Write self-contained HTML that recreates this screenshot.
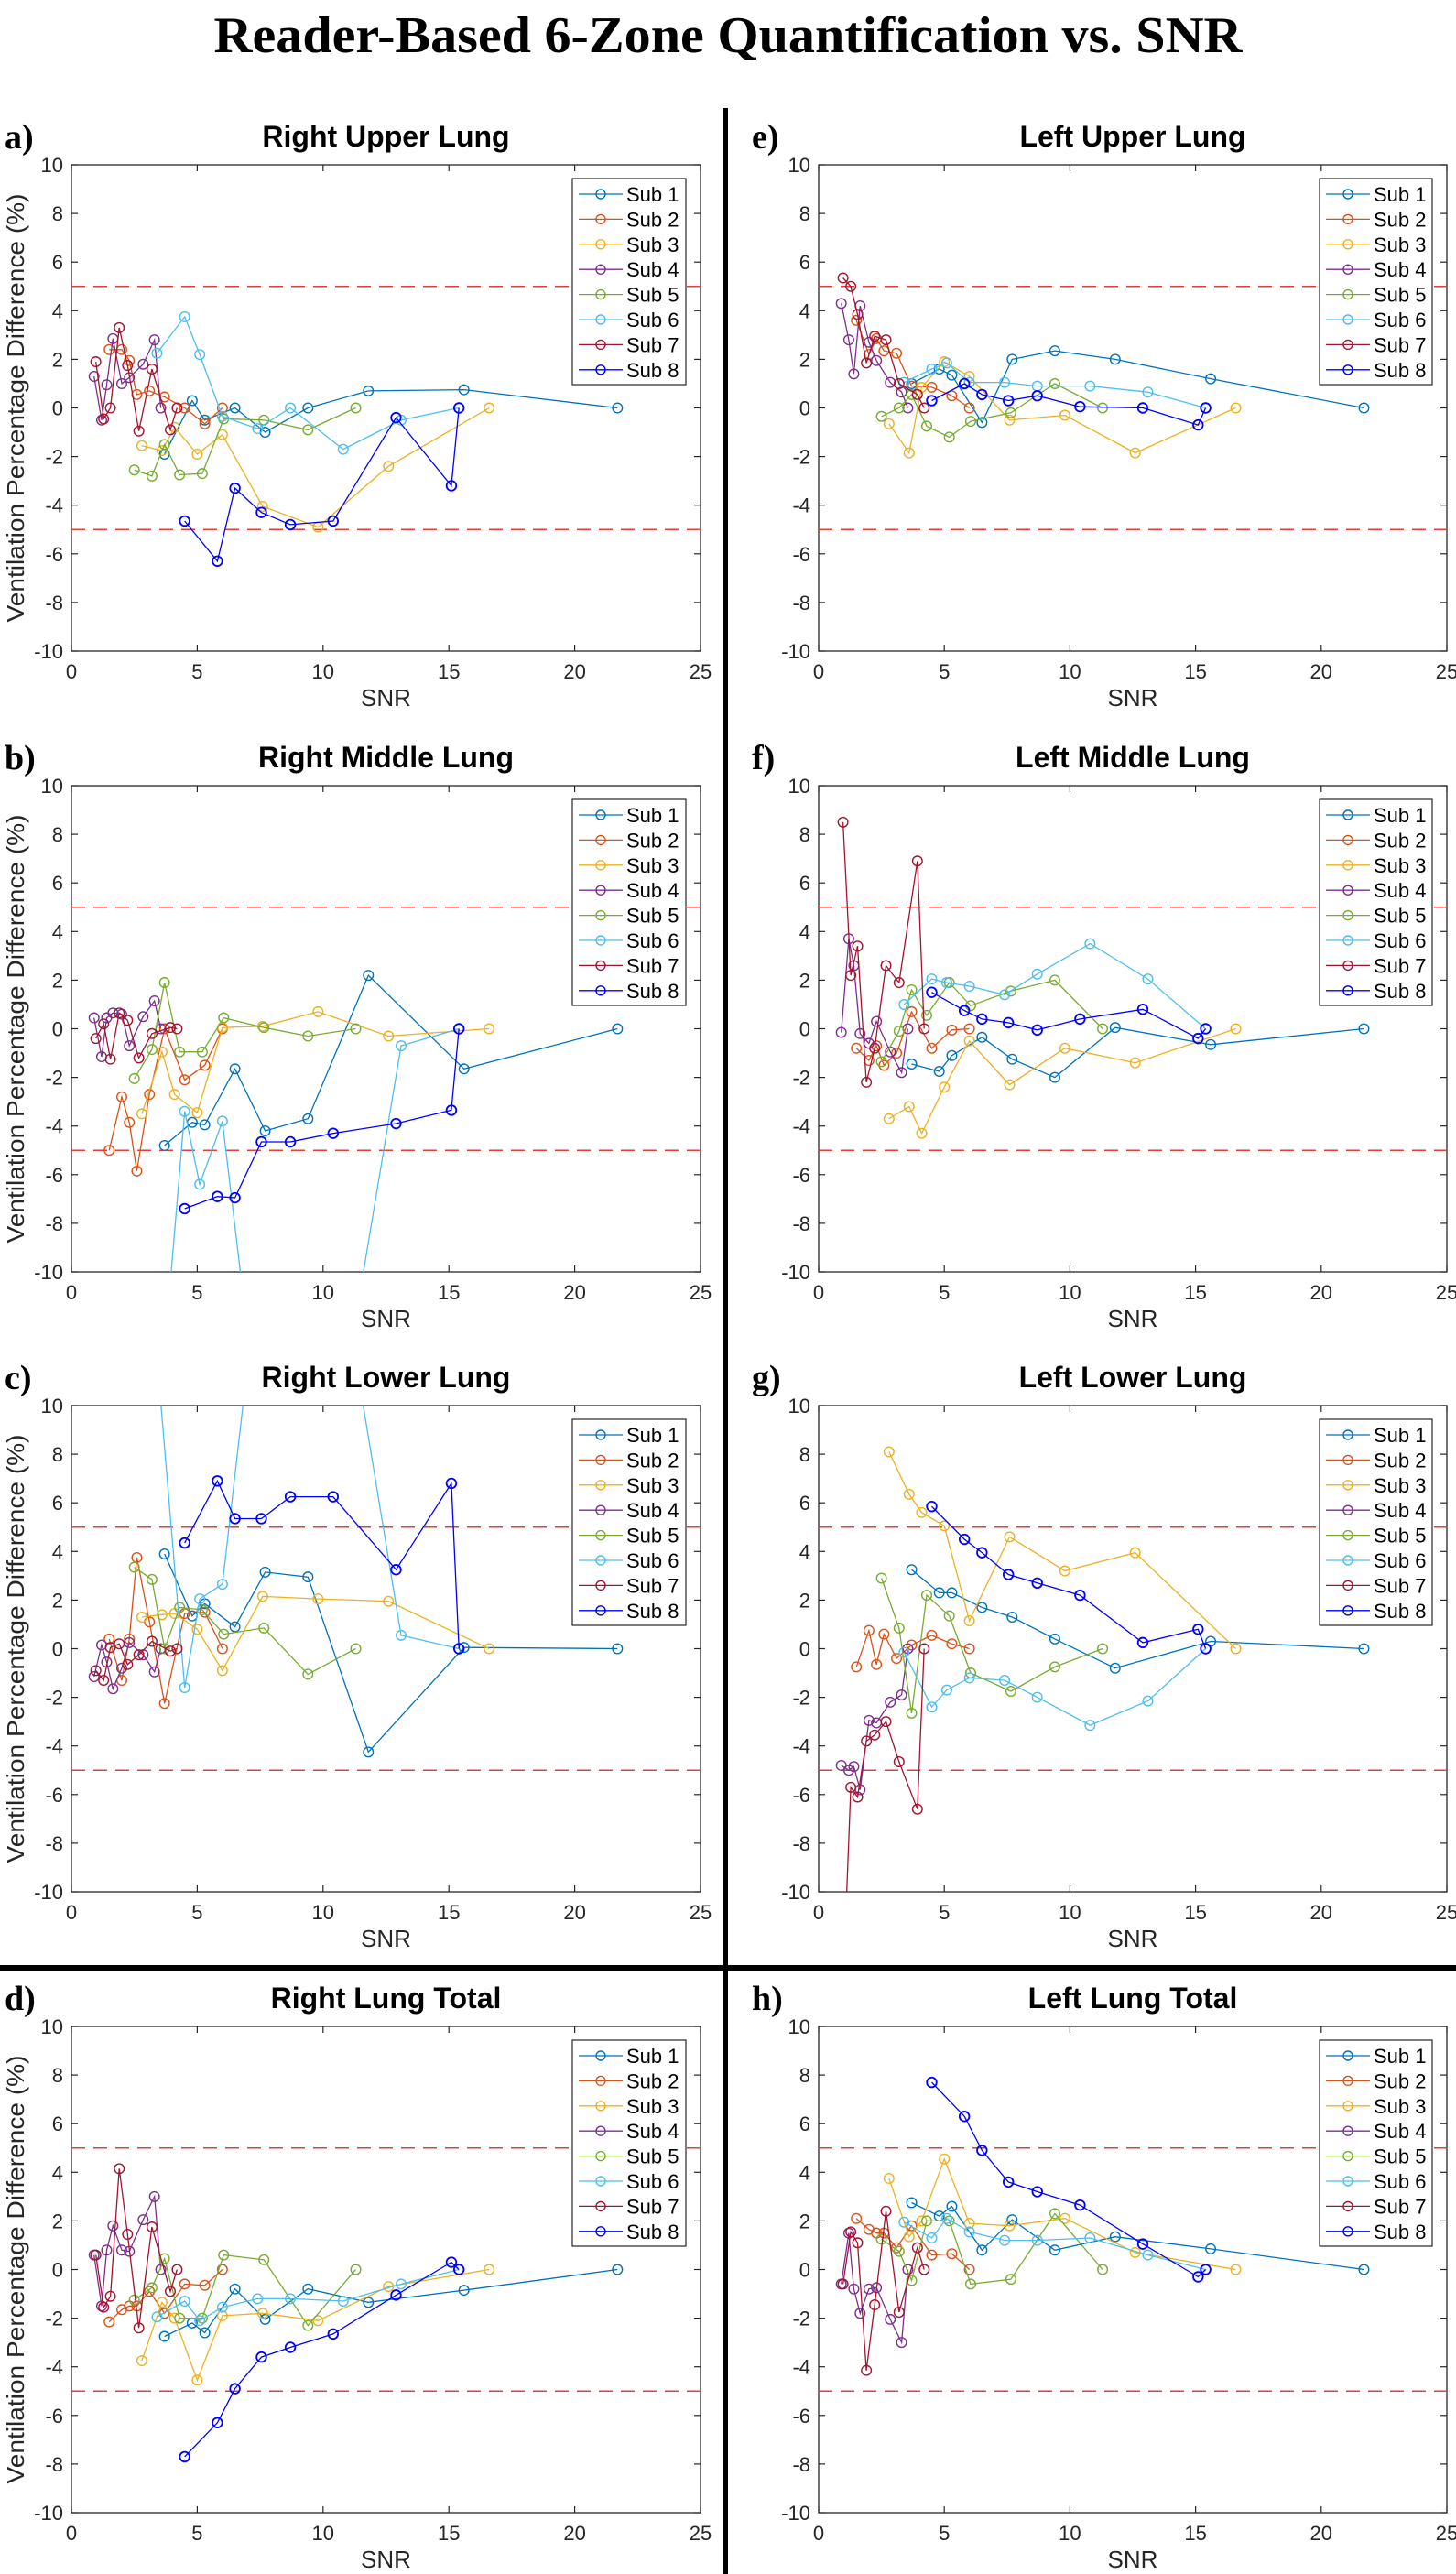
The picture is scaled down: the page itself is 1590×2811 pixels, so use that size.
<!DOCTYPE html>
<html>
<head>
<meta charset="utf-8">
<style>
html,body{margin:0;padding:0;background:#fff;}
svg{display:block;}
</style>
</head>
<body>
<svg id="fig" xmlns="http://www.w3.org/2000/svg" width="1590" height="2811" viewBox="0 0 1590 2811">
<rect width="1590" height="2811" fill="#fff"/>
<text x="795" y="57" text-anchor="middle" font-family="Liberation Serif, serif" font-weight="bold" font-size="56" textLength="1123" lengthAdjust="spacingAndGlyphs" fill="#000">Reader-Based 6-Zone Quantification vs. SNR</text>
<rect x="789" y="118" width="6" height="2693" fill="#000"/>
<rect x="0" y="2146" width="1590" height="6" fill="#000"/>
<g id="panels"></g>
</svg>
<script>
// Shared SNR values per subject
const snrSub1 = [3.7, 4.8, 5.3, 6.5, 7.7, 9.4, 11.8, 15.6, 21.7];
const snrSub2 = [1.5, 2.0, 2.3, 2.6, 3.1, 3.7, 4.5, 5.3, 6.0];
const snrSub3 = [2.8, 3.6, 4.1, 5.0, 6.0, 7.6, 9.8, 12.6, 16.6];
const snrSub4 = [0.9, 1.2, 1.4, 1.65, 2.0, 2.3, 2.85, 3.3, 3.55];
const snrSub5 = [2.5, 3.2, 3.7, 4.3, 5.2, 6.05, 7.65, 9.4, 11.3];
const snrSub6 = [3.4, 4.5, 5.1, 6.0, 7.4, 8.7, 10.8, 13.1, 15.4];
const snrSub7 = [0.97, 1.28, 1.55, 1.9, 2.23, 2.68, 3.2, 3.93, 4.2];
const snrSub8 = [4.5, 5.8, 6.5, 7.55, 8.7, 10.4, 12.9, 15.1, 15.4];

const seriesNames = ["Sub 1","Sub 2","Sub 3","Sub 4","Sub 5","Sub 6","Sub 7","Sub 8"];
const xTicks = [0, 5, 10, 15, 20, 25];
const yTicks = [-10, -8, -6, -4, -2, 0, 2, 4, 6, 8, 10];
const limitLines = [5, -5];

// Ventilation percentage difference per panel (one array per subject)
const rightUpper = [
  [-1.9, 0.3, -0.5, 0, -1.0, 0, 0.7, 0.75, 0],
  [2.4, 2.4, 1.95, 0.55, 0.7, 0.45, 0, -0.65, 0],
  [-1.55, -1.75, -0.8, -1.9, -1.1, -4.05, -4.9, -2.4, 0],
  [1.3, -0.5, 0.95, 2.85, 1.0, 1.25, 1.8, 2.8, 0],
  [-2.55, -2.8, -1.5, -2.75, -2.7, -0.45, -0.5, -0.9, 0],
  [2.25, 3.75, 2.2, -0.35, -0.85, 0, -1.7, -0.5, 0],
  [1.9, -0.45, 0, 3.3, 1.75, -0.95, 1.6, -0.9, 0],
  [-4.65, -6.3, -3.3, -4.3, -4.8, -4.65, -0.4, -3.2, 0]
];
const rightMiddle = [
  [-4.8, -3.85, -3.95, -1.65, -4.2, -3.7, 2.2, -1.65, 0],
  [-5.0, -2.8, -3.85, -5.85, -2.7, 0, -2.1, -1.5, 0],
  [-3.5, -0.95, -2.7, -3.45, 0.05, 0.1, 0.7, -0.3, 0],
  [0.45, -1.15, 0.45, 0.65, 0.6, -0.7, 0.5, 1.15, 0],
  [-2.05, -0.85, 1.9, -0.95, -0.95, 0.45, 0.05, -0.3, 0],
  [-17, -3.4, -6.4, -3.8, -16, -20, -15, -0.7, 0],
  [-0.4, 0.2, -1.25, 0.65, 0.35, -1.2, -0.2, 0.05, 0],
  [-7.4, -6.9, -6.95, -4.65, -4.65, -4.3, -3.9, -3.35, 0]
];
const rightLower = [
  [3.9, 1.35, 1.85, 0.9, 3.15, 2.95, -4.25, 0.05, 0],
  [0.4, -1.3, 0.4, 3.75, 1.1, -2.25, 1.45, 1.5, 0],
  [1.3, 1.4, 1.45, 0.8, -0.9, 2.15, 2.05, 1.95, 0],
  [-1.15, 0.15, -0.55, -1.65, -0.8, 0.25, -0.25, -0.95, 0],
  [3.35, 2.85, 0, 1.7, 1.6, 0.6, 0.85, -1.05, 0],
  [12, -1.6, 2.05, 2.65, 15.3, 20, 15, 0.55, 0],
  [-0.9, -1.3, 0.05, 0.2, -0.65, -0.25, 0.3, -0.1, 0],
  [4.35, 6.9, 5.35, 5.35, 6.25, 6.25, 3.25, 6.8, 0]
];
const rightTotal = [
  [-2.75, -2.2, -2.6, -0.8, -2.05, -0.8, -1.35, -0.85, 0],
  [-2.15, -1.65, -1.5, -1.5, -0.9, -1.8, -0.6, -0.65, 0],
  [-3.75, -1.35, -2.0, -4.55, -1.9, -1.8, -2.1, -0.7, 0],
  [0.6, -1.5, 0.8, 1.8, 0.8, 0.75, 2.05, 3.0, 0],
  [-1.25, -0.75, 0.45, -2.0, -2.0, 0.6, 0.4, -2.3, 0],
  [-1.95, -1.3, -2.1, -1.55, -1.2, -1.2, -1.3, -0.6, 0],
  [0.6, -1.55, -1.1, 4.15, 1.45, -2.4, 1.75, -0.9, 0],
  [-7.7, -6.3, -4.9, -3.6, -3.2, -2.65, -1.05, 0.3, 0]
];
const leftUpper = [
  [1.0, 1.6, 1.35, -0.6, 2.0, 2.35, 2.0, 1.2, 0],
  [3.6, 2.2, 2.85, 2.35, 2.25, 0.9, 0.85, 0.5, 0],
  [-0.65, -1.85, 0.85, 1.9, 1.3, -0.5, -0.3, -1.85, 0],
  [4.3, 2.8, 1.4, 4.2, 2.7, 1.95, 1.05, 0.65, 0],
  [-0.35, 0, 0.55, -0.75, -1.2, -0.55, -0.2, 1.0, 0],
  [1.05, 1.6, 1.85, 1.05, 1.05, 0.9, 0.9, 0.65, 0],
  [5.35, 5.0, 3.85, 1.85, 2.95, 2.8, 1.0, 0.55, 0],
  [0.3, 1.0, 0.55, 0.3, 0.5, 0.05, 0, -0.7, 0]
];
const leftMiddle = [
  [-1.45, -1.75, -1.1, -0.35, -1.25, -2.0, 0.05, -0.65, 0],
  [-0.8, -1.3, -0.7, -1.5, -1.0, 0.7, -0.8, -0.05, 0],
  [-3.7, -3.2, -4.3, -2.4, -0.5, -2.3, -0.8, -1.4, 0],
  [-0.15, 3.7, 2.6, -0.2, -0.6, 0.3, -0.95, -1.8, 0],
  [-1.35, -0.1, 1.6, 0.55, 1.9, 0.95, 1.55, 2.0, 0],
  [1.0, 2.05, 1.9, 1.75, 1.4, 2.25, 3.5, 2.05, 0],
  [8.5, 2.2, 3.4, -2.2, -0.8, 2.6, 1.9, 6.9, 0],
  [1.5, 0.75, 0.4, 0.25, -0.05, 0.4, 0.8, -0.4, 0]
];
const leftLower = [
  [3.25, 2.3, 2.3, 1.7, 1.3, 0.4, -0.8, 0.3, 0],
  [-0.75, 0.75, -0.65, 0.6, -0.4, 0.15, 0.55, 0.2, 0],
  [8.1, 6.35, 5.6, 5.05, 1.15, 4.6, 3.2, 3.95, 0],
  [-4.8, -5.0, -4.85, -5.8, -2.95, -3.05, -2.2, -1.9, 0],
  [2.9, 0.85, -2.65, 2.2, 1.35, -1.0, -1.75, -0.75, 0],
  [-0.15, -2.4, -1.7, -1.2, -1.3, -2.0, -3.15, -2.15, 0],
  [-14, -5.7, -6.1, -3.8, -3.55, -3.0, -4.65, -6.6, 0],
  [5.85, 4.5, 3.95, 3.05, 2.7, 2.2, 0.25, 0.8, 0]
];
const leftTotal = [
  [2.75, 2.2, 2.6, 0.8, 2.05, 0.8, 1.35, 0.85, 0],
  [2.1, 1.65, 1.5, 1.5, 0.9, 1.8, 0.6, 0.65, 0],
  [3.75, 1.35, 2.0, 4.55, 1.9, 1.8, 2.1, 0.7, 0],
  [-0.6, 1.5, -0.8, -1.8, -0.8, -0.75, -2.05, -3.0, 0],
  [1.25, 0.75, -0.45, 2.0, 2.0, -0.6, -0.4, 2.3, 0],
  [1.95, 1.3, 2.1, 1.55, 1.2, 1.2, 1.3, 0.6, 0],
  [-0.6, 1.55, 1.1, -4.15, -1.45, 2.4, -1.75, 0.9, 0],
  [7.7, 6.3, 4.9, 3.6, 3.2, 2.65, 1.05, -0.3, 0]
];

const subjectSnr = [snrSub1, snrSub2, snrSub3, snrSub4, snrSub5, snrSub6, snrSub7, snrSub8];
const colors = ["#0072BD","#D95319","#EDB120","#7E2F8E","#77AC30","#4DBEEE","#A2142F","#0000FF"];

const panels = [
  {id:"a", title:"Right Upper Lung", data:rightUpper, col:0, row:0},
  {id:"b", title:"Right Middle Lung", data:rightMiddle, col:0, row:1},
  {id:"c", title:"Right Lower Lung", data:rightLower, col:0, row:2},
  {id:"d", title:"Right Lung Total", data:rightTotal, col:0, row:3},
  {id:"e", title:"Left Upper Lung", data:leftUpper, col:1, row:0},
  {id:"f", title:"Left Middle Lung", data:leftMiddle, col:1, row:1},
  {id:"g", title:"Left Lower Lung", data:leftLower, col:1, row:2},
  {id:"h", title:"Left Lung Total", data:leftTotal, col:1, row:3}
];

const NS = "http://www.w3.org/2000/svg";
const root = document.getElementById("panels");
function mk(tag, attrs, parent){
  const el = document.createElementNS(NS, tag);
  for (const k in attrs) el.setAttribute(k, attrs[k]);
  parent.appendChild(el);
  return el;
}
const colX = [[78, 765], [894, 1580]];
const rowTop = [180, 858, 1535, 2213];
const H = 531;
const AX = "#262626";

panels.forEach(function(p){
  const x0 = colX[p.col][0], x1 = colX[p.col][1];
  const top = rowTop[p.row], bot = top + H;
  const xs = function(v){ return x0 + (v - 0) / 25 * (x1 - x0); };
  const ys = function(v){ return bot - (v + 10) / 20 * H; };

  const g = mk("g", {}, root);
  
  

  const lab = mk("text", {x: (p.col ? 821 : 5), y: top - 18, "font-family":"Liberation Serif, serif", "font-weight":"bold", "font-size":"38", fill:"#000"}, g);
  lab.textContent = p.id + ")";
  
  

  const tt = mk("text", {x: (x0 + x1) / 2, y: top - 20, "text-anchor":"middle", "font-family":"Liberation Sans, sans-serif", "font-weight":"bold", "font-size":"32", fill:"#000"}, g);
  tt.textContent = p.title;
  
  

  // axes box
  const box = mk("rect", {x:x0, y:top, width:x1 - x0, height:H, fill:"#fff", stroke:AX, "stroke-width":"1.3"}, g);
  
  

  // ticks
  const tg = mk("g", {}, g);
  
  
  yTicks.forEach(function(t){
    const y = ys(t);
    mk("line", {x1:x0, x2:x0 + 7, y1:y, y2:y, stroke:AX, "stroke-width":"1.2"}, tg);
    mk("line", {x1:x1, x2:x1 - 7, y1:y, y2:y, stroke:AX, "stroke-width":"1.2"}, tg);
    const tl = mk("text", {x:x0 - 9, y:y + 8, "text-anchor":"end", "font-family":"Liberation Sans, sans-serif", "font-size":"22", fill:AX}, tg);
    tl.textContent = String(t);
    
    
  });
  const xg = mk("g", {}, g);
  
  
  xTicks.forEach(function(t){
    const x = xs(t);
    mk("line", {x1:x, x2:x, y1:bot, y2:bot - 7, stroke:AX, "stroke-width":"1.2"}, xg);
    mk("line", {x1:x, x2:x, y1:top, y2:top + 7, stroke:AX, "stroke-width":"1.2"}, xg);
    const tl = mk("text", {x:x, y:bot + 30, "text-anchor":"middle", "font-family":"Liberation Sans, sans-serif", "font-size":"22", fill:AX}, xg);
    tl.textContent = String(t);
    
    
  });
  const xl = mk("text", {x:(x0 + x1) / 2, y:bot + 60, "text-anchor":"middle", "font-family":"Liberation Sans, sans-serif", "font-size":"26", fill:AX}, g);
  xl.textContent = "SNR";
  
  

  if (p.col === 0) {
    const cy = (top + bot) / 2;
    const yl = mk("text", {x:0, y:0, transform:"translate(26," + cy + ") rotate(-90)", "text-anchor":"middle", "font-family":"Liberation Sans, sans-serif", "font-size":"26", fill:AX, textLength:"468", lengthAdjust:"spacingAndGlyphs"}, g);
    yl.textContent = "Ventilation Percentage Difference (%)";
    
    
  }

  // clip
  const cp = mk("clipPath", {id:"clip-" + p.id}, g);
  mk("rect", {x:x0, y:top, width:x1 - x0, height:H}, cp);
  const plot = mk("g", {"clip-path":"url(#clip-" + p.id + ")"}, g);

  limitLines.forEach(function(v){
    const l = mk("line", {x1:x0, x2:x1, y1:ys(v), y2:ys(v), stroke:"#E0403A", "stroke-width":"1.4", "stroke-dasharray":"15 9"}, plot);
    
    
  });

  p.data.forEach(function(vals, si){
    const xsArr = subjectSnr[si];
    const sg = mk("g", {}, plot);
    
    
    const pts = vals.map(function(v, i){ return xs(xsArr[i]).toFixed(1) + "," + ys(v).toFixed(1); }).join(" ");
    mk("polyline", {points:pts, fill:"none", stroke:colors[si], "stroke-width":"1.3"}, sg);
    vals.forEach(function(v, i){
      const c = mk("circle", {cx:xs(xsArr[i]), cy:ys(v), r:"5.3", fill:"none", stroke:colors[si], "stroke-width": si === 7 ? "1.8" : "1.4"}, sg);
      
      
    });
  });

  // legend
  const lx0 = p.col ? 1441 : 625, lx1 = p.col ? 1564 : 749;
  const ly0 = top + 15;
  const lg = mk("g", {}, g);
  
  
  mk("rect", {x:lx0, y:ly0, width:lx1 - lx0, height:225, fill:"#fff", stroke:AX, "stroke-width":"1.2"}, lg);
  seriesNames.forEach(function(n, si){
    const y = ly0 + 17 + si * 27.4;
    const eg = mk("g", {}, lg);
    
    
    mk("line", {x1:lx0 + 7, x2:lx0 + 55, y1:y, y2:y, stroke:colors[si], "stroke-width":"1.3"}, eg);
    mk("circle", {cx:lx0 + 31, cy:y, r:"5", fill:"none", stroke:colors[si], "stroke-width":"1.4"}, eg);
    const t = mk("text", {x:lx0 + 59, y:y + 8, "font-family":"Liberation Sans, sans-serif", "font-size":"22", fill:"#000"}, eg);
    t.textContent = n;
  });
});
</script>
</body>
</html>
